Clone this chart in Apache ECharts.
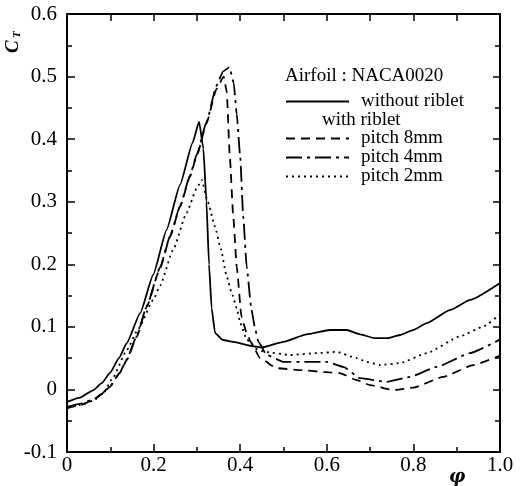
<!DOCTYPE html>
<html><head><meta charset="utf-8">
<script src="https://cdn.jsdelivr.net/npm/echarts@6/dist/echarts.min.js"></script>
<style>html,body{margin:0;padding:0;background:#fff}#c{width:520px;height:486px}</style>
</head><body><div id="c"></div>
<script>
// x ticks / y ticks
const xTicks = [0, 0.2, 0.4, 0.6, 0.8, 1.0];
const yTicks = [-0.1, 0, 0.1, 0.2, 0.3, 0.4, 0.5, 0.6];
const seriesNames = ['without riblet', 'pitch 8mm', 'pitch 4mm', 'pitch 2mm'];

const withoutRiblet = [[0,-0.02],[0.03,-0.013],[0.061,-0.001],[0.08,0.01],[0.099,0.026],[0.12,0.05],[0.138,0.074],[0.169,0.122],[0.199,0.183],[0.23,0.255],[0.261,0.327],[0.29,0.394],[0.305,0.428],[0.315,0.385],[0.322,0.30],[0.328,0.20],[0.334,0.13],[0.342,0.09],[0.36,0.079],[0.384,0.076],[0.43,0.069],[0.45,0.067],[0.5,0.076],[0.553,0.088],[0.607,0.095],[0.646,0.095],[0.677,0.088],[0.71,0.082],[0.74,0.082],[0.769,0.087],[0.8,0.095],[0.831,0.106],[0.885,0.127],[0.931,0.143],[1.0,0.170]];

const pitch8 = [[0,-0.03],[0.03,-0.025],[0.061,-0.017],[0.08,-0.008],[0.099,0.004],[0.122,0.026],[0.138,0.047],[0.161,0.084],[0.184,0.132],[0.215,0.194],[0.238,0.244],[0.261,0.292],[0.284,0.34],[0.30,0.374],[0.322,0.425],[0.345,0.48],[0.362,0.50],[0.369,0.475],[0.376,0.372],[0.384,0.276],[0.392,0.196],[0.403,0.116],[0.415,0.09],[0.425,0.075],[0.446,0.05],[0.484,0.034],[0.538,0.031],[0.592,0.028],[0.63,0.026],[0.669,0.015],[0.70,0.007],[0.754,-0.001],[0.8,0.003],[0.869,0.02],[0.938,0.039],[1.0,0.054]];

const pitch4 = [[0,-0.028],[0.03,-0.023],[0.061,-0.016],[0.08,-0.007],[0.099,0.005],[0.122,0.027],[0.138,0.048],[0.161,0.085],[0.184,0.133],[0.215,0.195],[0.238,0.245],[0.261,0.293],[0.284,0.342],[0.30,0.376],[0.322,0.427],[0.345,0.485],[0.36,0.508],[0.375,0.515],[0.385,0.49],[0.392,0.44],[0.40,0.372],[0.407,0.276],[0.415,0.196],[0.426,0.127],[0.435,0.095],[0.442,0.076],[0.461,0.055],[0.5,0.044],[0.553,0.044],[0.60,0.044],[0.638,0.036],[0.677,0.018],[0.738,0.012],[0.792,0.02],[0.854,0.036],[0.931,0.058],[1.0,0.08]];

const pitch2 = [[0,-0.03],[0.03,-0.025],[0.061,-0.018],[0.085,-0.005],[0.107,0.02],[0.138,0.063],[0.165,0.097],[0.199,0.143],[0.215,0.166],[0.245,0.223],[0.276,0.282],[0.30,0.322],[0.311,0.335],[0.325,0.30],[0.342,0.26],[0.355,0.225],[0.369,0.18],[0.38,0.155],[0.392,0.13],[0.40,0.106],[0.415,0.08],[0.435,0.065],[0.457,0.06],[0.515,0.055],[0.577,0.058],[0.623,0.06],[0.669,0.05],[0.692,0.044],[0.723,0.039],[0.769,0.042],[0.831,0.058],[0.908,0.085],[0.96,0.1],[1.0,0.12]];

const chart = echarts.init(document.getElementById('c'), null, {renderer: 'canvas'});
const FONT = 'Liberation Serif';
const axisCommon = {
  axisLine: {show: true, onZero: false, lineStyle: {color: '#000', width: 2}},
  splitLine: {show: false},
  minorSplitLine: {show: false}
};
const lineStyleBase = {color: '#000', width: 1.8};
function mk(name, data, type) {
  return {
    name, type: 'line', data, showSymbol: false, symbol: 'none',
    smooth: 0.15, smoothMonotone: 'x',
    lineStyle: Object.assign({}, lineStyleBase, {type}),
    itemStyle: {color: '#000'},
    xAxisIndex: 0, yAxisIndex: 0
  };
}
const legendCommon = {
  orient: 'vertical', left: 285, padding: 0,
  itemWidth: 63, itemHeight: 14, itemGap: 0,
  itemStyle: {opacity: 0},
  textStyle: {color: '#000', fontFamily: FONT, fontSize: 19, padding: [0, 0, 0, 7]},
  selectedMode: false
};
chart.setOption({
  backgroundColor: '#fff',
  animation: false,
  grid: {left: 67, right: 20, top: 14, bottom: 34, containLabel: false},
  xAxis: [
    Object.assign({}, axisCommon, {
      type: 'value', min: xTicks[0], max: xTicks[xTicks.length-1], interval: 0.2, position: 'bottom',
      axisTick: {inside: true, length: 8, lineStyle: {width: 1.5, color: '#000'}},
      minorTick: {show: true, splitNumber: 2, length: 5, lineStyle: {width: 1.5, color: '#000'}},
      axisLabel: {color: '#000', fontFamily: FONT, fontSize: 21, margin: 3,
        formatter: v => v === 0 ? '0' : v.toFixed(1)}
    }),
    Object.assign({}, axisCommon, {
      type: 'value', min: 0, max: 1, interval: 0.1, position: 'top',
      axisTick: {inside: true, length: 7, lineStyle: {width: 1.5, color: '#000'}},
      axisLabel: {show: false}
    })
  ],
  yAxis: [
    Object.assign({}, axisCommon, {
      type: 'value', min: yTicks[0], max: yTicks[yTicks.length-1], interval: 0.1, position: 'left',
      axisTick: {inside: true, length: 8, lineStyle: {width: 1.5, color: '#000'}},
      minorTick: {show: true, splitNumber: 2, length: 5, lineStyle: {width: 1.5, color: '#000'}},
      axisLabel: {color: '#000', fontFamily: FONT, fontSize: 21, margin: 10,
        formatter: v => v === 0 ? '0' : (Math.round(v*10)/10).toFixed(1)}
    }),
    Object.assign({}, axisCommon, {
      type: 'value', min: -0.1, max: 0.6, interval: 0.1, position: 'right',
      axisTick: {inside: true, length: 7, lineStyle: {width: 1.5, color: '#000'}},
      minorTick: {show: true, splitNumber: 2, length: 5, lineStyle: {width: 1.5, color: '#000'}},
      axisLabel: {show: false}
    })
  ],
  legend: [
    Object.assign({}, legendCommon, {data: [seriesNames[0]], top: 92}),
    Object.assign({}, legendCommon, {data: seriesNames.slice(1), top: 129})
  ],
  graphic: [
    {type: 'text', left: 285, top: 67, style: {text: 'Airfoil : NACA0020', fill: '#000', font: '19px "Liberation Serif"'}},
    {type: 'text', left: 322, top: 111, style: {text: 'with riblet', fill: '#000', font: '19px "Liberation Serif"'}},
    {type: 'text', x: 4, y: 53, rotation: Math.PI/2, style: {text: 'C', fill: '#000', font: 'italic bold 19px "Liberation Serif"'}},
    {type: 'text', x: 12, y: 38, rotation: Math.PI/2, style: {text: 'T', fill: '#000', font: 'italic bold 11px "Liberation Serif"'}},
    {type: 'text', x: 449, y: 468, style: {text: 'φ', fill: '#000', font: 'italic bold 18px "DejaVu Serif"'}}
  ],
  series: [
    mk(seriesNames[0], withoutRiblet, 'solid'),
    mk(seriesNames[1], pitch8, [9, 6]),
    mk(seriesNames[2], pitch4, [16, 5, 3, 5]),
    mk(seriesNames[3], pitch2, [2, 4])
  ]
});
</script></body></html>
